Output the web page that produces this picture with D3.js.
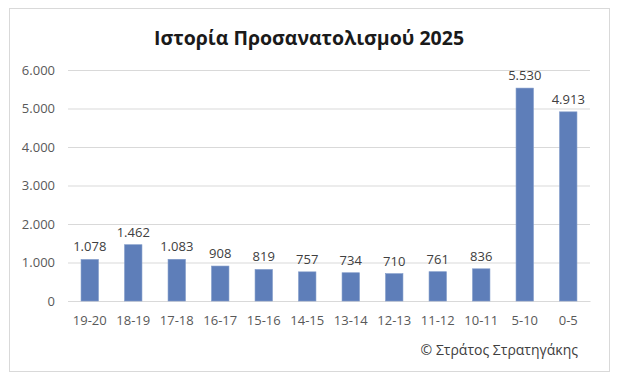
<!DOCTYPE html>
<html><head><meta charset="utf-8">
<script src="https://cdn.jsdelivr.net/npm/d3@7"></script>
<style>body{margin:0;background:#fff}svg{display:block}</style>
</head><body>
<script>
const categories = ["19-20","18-19","17-18","16-17","15-16","14-15","13-14","12-13","11-12","10-11","5-10","0-5"];
const values = [1078,1462,1083,908,819,757,734,710,761,836,5530,4913];
const yTicks = [0,1000,2000,3000,4000,5000,6000];
const title = "Ιστορία Προσανατολισμού 2025";
const credit = "© Στράτος Στρατηγάκης";

const W = 620, H = 386;
const svg = d3.select("body").append("svg").attr("width", W).attr("height", H);
svg.append("rect").attr("x", 9.5).attr("y", 8.5).attr("width", 600).attr("height", 363)
  .attr("fill", "#fff").attr("stroke", "#d9d9d9");

const fmt = d => d3.format(",")(d).replace(/,/g, ".");
const x = d3.scaleBand().domain(categories).range([68, 590]).paddingInner(0.6).paddingOuter(0.3);
const y = d3.scaleLinear().domain([0, 6000]).range([301, 70]);

const font = "'Open Sans', sans-serif";
svg.append("text").attr("x", 309).attr("y", 45).attr("text-anchor", "middle")
  .attr("font-family", font).attr("font-weight", 700).attr("font-size", 19.5)
  .attr("fill", "#1a1a1a").text(title);

const yAxis = svg.append("g").attr("transform", "translate(68,0)")
  .call(d3.axisLeft(y).tickValues(yTicks).tickFormat(fmt).tickSize(-522).tickPadding(13));
yAxis.select(".domain").remove();
yAxis.selectAll("line").attr("stroke", "#d9d9d9");
yAxis.selectAll("text").attr("font-family", font).attr("font-size", 13).attr("fill", "#595959");

const xAxis = svg.append("g").attr("transform", "translate(0,301)")
  .call(d3.axisBottom(x).tickSize(0).tickPadding(15));
xAxis.select(".domain").attr("stroke", "#d9d9d9");
xAxis.selectAll("text").attr("font-family", font).attr("font-size", 13).attr("fill", "#595959");

svg.append("g").selectAll("rect").data(values).join("rect")
  .attr("x", (d, i) => x(categories[i]))
  .attr("width", x.bandwidth())
  .attr("y", d => y(d))
  .attr("height", d => y(0) - y(d))
  .attr("fill", "#5e7eb9").attr("stroke", "#7e98c8").attr("stroke-width", 0.6);

svg.append("g").selectAll("text").data(values).join("text")
  .attr("x", (d, i) => x(categories[i]) + x.bandwidth() / 2)
  .attr("y", d => y(d) - 8)
  .attr("text-anchor", "middle")
  .attr("font-family", font).attr("font-size", 13).attr("fill", "#404040")
  .text(fmt);

svg.append("text").attr("x", 578).attr("y", 355).attr("text-anchor", "end")
  .attr("font-family", font).attr("font-size", 14).attr("fill", "#404040").text(credit);
</script>
</body></html>
